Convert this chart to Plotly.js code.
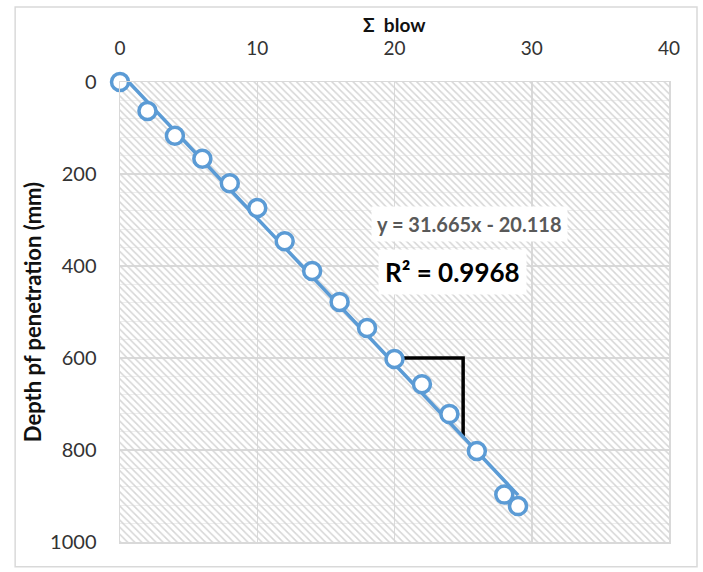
<!DOCTYPE html>
<html>
<head>
<meta charset="utf-8">
<script src="https://cdn.plot.ly/plotly-3.0.1.min.js"></script>
<style>
  html, body { margin: 0; padding: 0; background: #fff; }
  #chart { width: 703px; height: 572px; }
</style>
</head>
<body>
<div id="chart"></div>
<script>
// Cumulative blow count vs. depth of penetration (DCP test)
const blows = [0, 2, 4, 6, 8, 10, 12, 14, 16, 18, 20, 22, 24, 26, 28, 29];
const depth = [0, 63, 117, 167, 220, 274, 346, 411, 478, 535, 602, 657, 722, 802, 897, 922];

// Linear fit shown on the chart
const fitSlope = 31.665;
const fitIntercept = -20.118;
const fitLabel = 'y = 31.665x - 20.118';
const r2Label = 'R² = 0.9968';

// Slope guide (right-angle marker)
const guideX = [20, 25, 25];
const guideY = [600, 600, 770];

// Axis ranges and labels
const xRange = [0, 40];
const yRange = [0, 1000];
const xTitle = 'Σ  blow';
const yTitle = 'Depth pf penetration (mm)';

const fitX = [Math.min(...blows), Math.max(...blows)];
const fitY = fitX.map(v => fitSlope * v + fitIntercept);

const blue = '#5B9BD5';
const font = 'Lato, "Open Sans", sans-serif';

const traces = [
  {
    // hatched plot background
    x: [xRange[0], xRange[1], xRange[1], xRange[0], xRange[0]],
    y: [yRange[0], yRange[0], yRange[1], yRange[1], yRange[0]],
    mode: 'none', fill: 'toself',
    fillcolor: 'rgba(0,0,0,0)',
    fillpattern: { shape: '\\', fgcolor: '#d6d6d6', bgcolor: 'rgba(0,0,0,0)', size: 5, solidity: 0.3 },
    hoverinfo: 'skip', showlegend: false
  },
  {
    x: guideX, y: guideY, mode: 'lines',
    line: { color: '#000', width: 3.5 },
    hoverinfo: 'skip', showlegend: false
  },
  {
    x: fitX, y: fitY, mode: 'lines',
    line: { color: blue, width: 3.5 },
    showlegend: false
  },
  {
    x: blows, y: depth, mode: 'markers', cliponaxis: false,
    marker: { symbol: 'circle', size: 17, color: '#fff', line: { color: blue, width: 3.5 } },
    showlegend: false
  }
];

const layout = {
  width: 703, height: 572,
  margin: { l: 120, r: 34, t: 82, b: 30 },
  paper_bgcolor: '#fff', plot_bgcolor: '#fff',
  font: { family: font, color: '#333', size: 20 },
  xaxis: {
    side: 'top', range: xRange, dtick: 10, tick0: 0,
    showgrid: true, gridcolor: '#d9d9d9', gridwidth: 1.5,
    zeroline: false, showline: true, mirror: true, linecolor: '#d9d9d9', linewidth: 1.5,
    ticks: 'outside', ticklen: 18, tickcolor: 'rgba(0,0,0,0)',
    tickfont: { size: 19, color: '#333' }
  },
  yaxis: {
    range: [yRange[1], yRange[0]], dtick: 200, tick0: 0,
    showgrid: true, gridcolor: '#d9d9d9', gridwidth: 1.5,
    minor: { dtick: 40, showgrid: true, gridcolor: '#eeeeee', gridwidth: 1 },
    zeroline: false, showline: true, mirror: true, linecolor: '#d9d9d9', linewidth: 1.5,
    ticks: 'outside', ticklen: 18, tickcolor: 'rgba(0,0,0,0)',
    tickfont: { size: 20, color: '#333' },
    title: { text: yTitle, font: { size: 22, color: '#111', family: font, weight: 'bold' }, standoff: 2 }
  },
  annotations: [
    {
      // x-axis title, sitting just above the top tick labels
      xref: 'paper', yref: 'paper', x: 0.5, y: 1.126, yanchor: 'middle',
      text: xTitle, showarrow: false,
      font: { family: font, size: 19, color: '#111', weight: 'bold' }
    },
    {
      xref: 'x', yref: 'y', x: 25.5, y: 309, text: fitLabel, showarrow: false,
      font: { family: font, size: 20, color: '#595959', weight: 'bold' },
      bgcolor: '#fff', borderpad: 5
    },
    {
      xref: 'x', yref: 'y', x: 24.2, y: 413, text: r2Label, showarrow: false,
      font: { family: font, size: 26, color: '#000', weight: 'bold' },
      bgcolor: '#fff', borderpad: 6
    }
  ],
  shapes: [
    {
      type: 'rect', xref: 'paper', yref: 'paper', layer: 'below',
      x0: -0.191, x1: 1.051, y0: -0.054, y1: 1.163,
      line: { color: '#d9d9d9', width: 1.5 }, fillcolor: 'rgba(0,0,0,0)'
    }
  ]
};

Plotly.newPlot('chart', traces, layout, { displayModeBar: false, staticPlot: true });
</script>
</body>
</html>
